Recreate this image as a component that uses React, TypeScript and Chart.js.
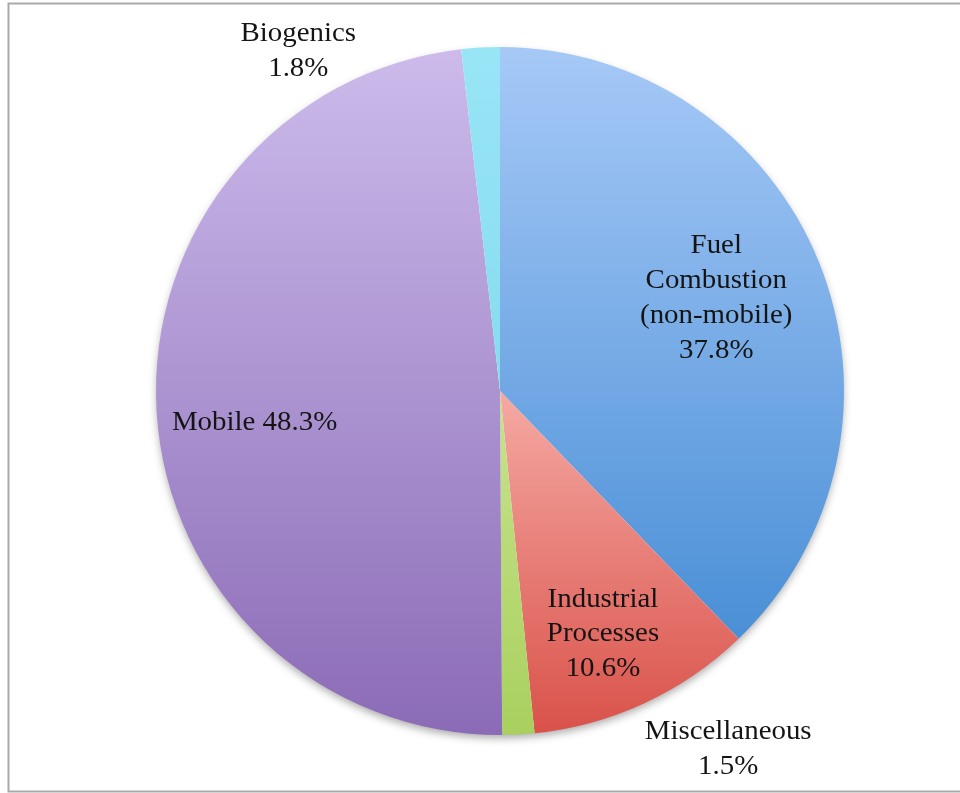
import React, { useEffect, useRef } from "react";
import { Chart, registerables } from "chart.js";

Chart.register(...registerables);

const categories = ["Fuel Combustion (non-mobile)", "Industrial Processes", "Miscellaneous", "Mobile", "Biogenics"];
const values = [37.8, 10.6, 1.5, 48.3, 1.8];
const labelLines = [
  ["Fuel", "Combustion", "(non-mobile)", "37.8%"],
  ["Industrial", "Processes", "10.6%"],
  ["Miscellaneous", "1.5%"],
  ["Mobile 48.3%"],
  ["Biogenics", "1.8%"],
];
const gradientTop = ["#a6c9f7", "#f5a9a3", "#c8e38e", "#ccbbeb", "#98e5f6"];
const gradientBottom = ["#4a8fd6", "#d9524a", "#a9d05e", "#8b6bb6", "#86dcef"];
// label placement: angle (deg, clockwise from top) and radius factor
const labelAngle = [66.4, 156.9, 147.4, 262.9, 329.4];
const labelRadius = [0.686, 0.763, 1.231, 0.719, 1.152];

function sliceGradient(ctx: any) {
  const chart = ctx.chart;
  const area = chart.chartArea;
  const i = ctx.dataIndex;
  if (!area || i === undefined) return gradientTop[i ?? 0];
  const cx = (area.left + area.right) / 2;
  const cy = (area.top + area.bottom) / 2;
  const r = Math.min(area.right - area.left, area.bottom - area.top) / 2;
  const total = values.reduce((a, b) => a + b, 0);
  let cum = 0;
  for (let k = 0; k < i; k++) cum += values[k];
  const start = -Math.PI / 2 + (2 * Math.PI * cum) / total;
  const end = start + (2 * Math.PI * values[i]) / total;
  const ys = [cy, cy + r * Math.sin(start), cy + r * Math.sin(end)];
  const within = (a: number) => {
    for (let t = a - 4 * Math.PI; t <= a + 4 * Math.PI; t += 2 * Math.PI) {
      if (t >= start && t <= end) return true;
    }
    return false;
  };
  if (within(Math.PI / 2)) ys.push(cy + r);
  if (within(-Math.PI / 2)) ys.push(cy - r);
  const y0 = Math.min(...ys);
  const y1 = Math.max(...ys);
  const g = chart.ctx.createLinearGradient(0, y0, 0, y1);
  g.addColorStop(0, gradientTop[i]);
  g.addColorStop(1, gradientBottom[i]);
  return g;
}

const framePlugin = {
  id: "frame",
  beforeDraw(chart: any) {
    const c = chart.ctx;
    c.save();
    c.fillStyle = "#ffffff";
    c.fillRect(0, 0, chart.width, chart.height);
    c.strokeStyle = "#a9a9a9";
    c.lineWidth = 2;
    c.strokeRect(8.5, 3.5, 980, 788);
    c.restore();
  },
};

const shadowPlugin = {
  id: "pieShadow",
  beforeDatasetsDraw(chart: any) {
    const arc = chart.getDatasetMeta(0).data[0];
    if (!arc) return;
    const c = chart.ctx;
    c.save();
    c.shadowColor = "rgba(0,0,0,0.35)";
    c.shadowBlur = 9;
    c.shadowOffsetY = 4;
    c.fillStyle = "#ffffff";
    c.beginPath();
    c.arc(arc.x, arc.y, arc.outerRadius - 1, 0, Math.PI * 2);
    c.fill();
    c.restore();
  },
};

const labelPlugin = {
  id: "sliceLabels",
  afterDatasetsDraw(chart: any) {
    const arc = chart.getDatasetMeta(0).data[0];
    if (!arc) return;
    const c = chart.ctx;
    const cx = arc.x;
    const cy = arc.y;
    const r = arc.outerRadius;
    const lh = 34.8;
    const cap = 17.8;
    const sx = 1.07;
    c.save();
    c.font = '27px "Liberation Serif", "Times New Roman", serif';
    c.fillStyle = "#141414";
    c.textAlign = "center";
    c.textBaseline = "alphabetic";
    labelLines.forEach((lines, i) => {
      const a = (labelAngle[i] * Math.PI) / 180;
      const x = cx + labelRadius[i] * r * Math.sin(a);
      const y = cy - labelRadius[i] * r * Math.cos(a);
      const first = y - ((lines.length - 1) * lh) / 2 + cap / 2;
      lines.forEach((t, j) => {
        c.save();
        c.translate(x, first + j * lh);
        c.scale(sx, 1);
        c.fillText(t, 0, 0);
        c.restore();
      });
    });
    c.restore();
  },
};

export default function App() {
  const ref = useRef<HTMLCanvasElement>(null);
  useEffect(() => {
    if (!ref.current) return;
    const chart = new Chart(ref.current, {
      type: "pie",
      data: {
        labels: categories,
        datasets: [
          {
            data: values,
            backgroundColor: sliceGradient as any,
            borderWidth: 0,
          },
        ],
      },
      options: {
        responsive: false,
        animation: false,
        layout: { padding: { left: 156, right: 116, top: 47, bottom: 58 } },
        plugins: {
          legend: { display: false },
          tooltip: { enabled: false },
        },
      },
      plugins: [framePlugin, shadowPlugin, labelPlugin],
    });
    return () => chart.destroy();
  }, []);
  return (
    <div style={{ position: "fixed", left: 0, top: 0, width: 960, height: 793 }}>
      <canvas ref={ref} width={960} height={793} style={{ display: "block" }} />
    </div>
  );
}
